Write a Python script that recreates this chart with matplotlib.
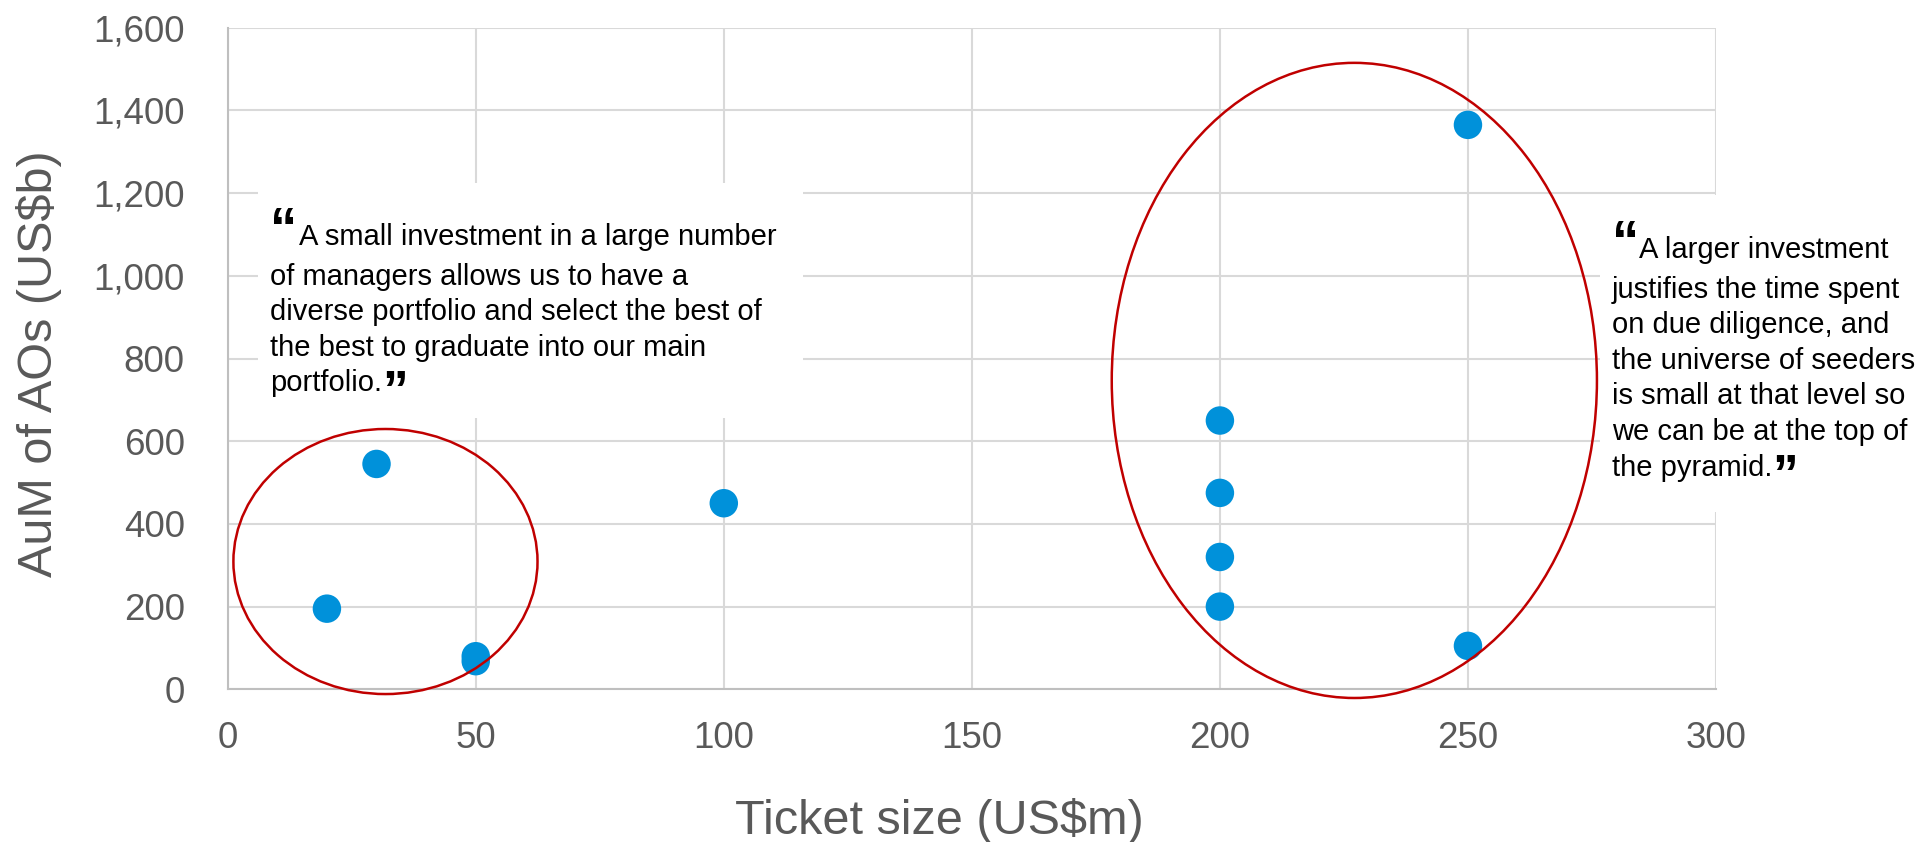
import matplotlib
matplotlib.use('Agg')
import matplotlib.pyplot as plt
from matplotlib.patches import Ellipse, Rectangle

plt.rcParams['font.family'] = ['Liberation Sans', 'DejaVu Sans']

# ── Data ─────────────────────────────────────────────────────
ticket_size = [20, 30, 50, 50, 100, 200, 200, 200, 200, 250, 250]
aum_aos     = [195, 545, 80, 68, 450, 650, 475, 320, 200, 1365, 105]

x_ticks = [0, 50, 100, 150, 200, 250, 300]
y_ticks = [0, 200, 400, 600, 800, 1000, 1200, 1400, 1600]
x_label = 'Ticket size (US$m)'
y_label = 'AuM of AOs (US$b)'

quote_left = ['A small investment in a large number',
              'of managers allows us to have a',
              'diverse portfolio and select the best of',
              'the best to graduate into our main',
              'portfolio.']
quote_right = ['A larger investment',
               'justifies the time spent',
               'on due diligence, and',
               'the universe of seeders',
               'is small at that level so',
               'we can be at the top of',
               'the pyramid.']

# ── Colours ──────────────────────────────────────────────────
C_DOT   = '#0091DA'
C_RED   = '#C00000'
C_GRID  = '#D9D9D9'
C_AXIS  = '#BFBFBF'
C_LABEL = '#595959'

W, H = 1933, 842
fig = plt.figure(figsize=(W / 100, H / 100), dpi=100)

def fx(px):
    return px / W

def fy(py):
    return 1 - py / H

ax = fig.add_axes([fx(227.7), fy(689.3), fx(1716) - fx(227.7), fy(27.7) - fy(689.3)])
ax.set_xlim(0, 300)
ax.set_ylim(0, 1600)
ax.set_xticks(x_ticks)
ax.set_yticks(y_ticks)
ax.set_yticklabels([f'{v:,}' for v in y_ticks])
ax.grid(True, color=C_GRID, lw=1.5, zorder=0)
ax.set_axisbelow(True)
for s in ['top', 'right']:
    ax.spines[s].set_visible(False)
for s in ['left', 'bottom']:
    ax.spines[s].set_color(C_AXIS)
    ax.spines[s].set_linewidth(1.5)
ax.tick_params(axis='both', length=0, labelsize=26.5, labelcolor=C_LABEL)
ax.tick_params(axis='y', pad=31)
ax.tick_params(axis='x', pad=23)

ax.scatter(ticket_size, aum_aos, s=420, color=C_DOT, edgecolors='none', zorder=3)

# ── Ellipses ─────────────────────────────────────────────────
ax.add_patch(Ellipse((31.8, 309), 61.3, 641, fill=False, ec=C_RED, lw=1.8,
                     zorder=4, clip_on=False))
ax.add_patch(Ellipse((227.1, 747), 97.8, 1536, fill=False, ec=C_RED, lw=1.8,
                     zorder=4, clip_on=False))

# ── Axis labels ──────────────────────────────────────────────
fig.text(fx(939.3), fy(834), x_label, ha='center', va='baseline',
         fontsize=35, color=C_LABEL)
fig.text(fx(52), fy(363.6), y_label, ha='center', va='baseline',
         rotation=90, rotation_mode='anchor', fontsize=35, color=C_LABEL)

# ── Quote boxes ──────────────────────────────────────────────
renderer = fig.canvas.get_renderer()

def quote_box(rect, x_text, x_first, baselines, lines, close_drop):
    x0, y0, x1, y1 = rect
    fig.patches.append(Rectangle((fx(x0), fy(y1)), fx(x1) - fx(x0), fy(y0) - fy(y1),
                                 transform=fig.transFigure, fc='white', ec='none',
                                 zorder=1))
    fig.text(fx(x_text), fy(baselines[0]), '\u201c', ha='left', va='baseline',
             fontsize=39, fontweight='bold', color='black', zorder=2)
    last = None
    for i, (line, yb) in enumerate(zip(lines, baselines)):
        xl = x_first if i == 0 else x_text
        last = fig.text(fx(xl), fy(yb), line, ha='left', va='baseline',
                        fontsize=21, color='black', zorder=2)
    bb = last.get_window_extent(renderer)
    fig.text(bb.x1 / W, fy(baselines[-1] + close_drop), '\u201d', ha='left',
             va='baseline', fontsize=37, fontweight='bold', color='black', zorder=2)

quote_box((258, 183, 803, 418), 270, 299, [245, 285, 320.5, 356, 391.5],
          quote_left, 15)
quote_box((1600, 195, 1933, 512), 1612, 1639,
          [258, 298, 333.5, 369, 404.5, 440, 475.5], quote_right, 15)

plt.savefig('out.png', dpi=100, facecolor='white')
